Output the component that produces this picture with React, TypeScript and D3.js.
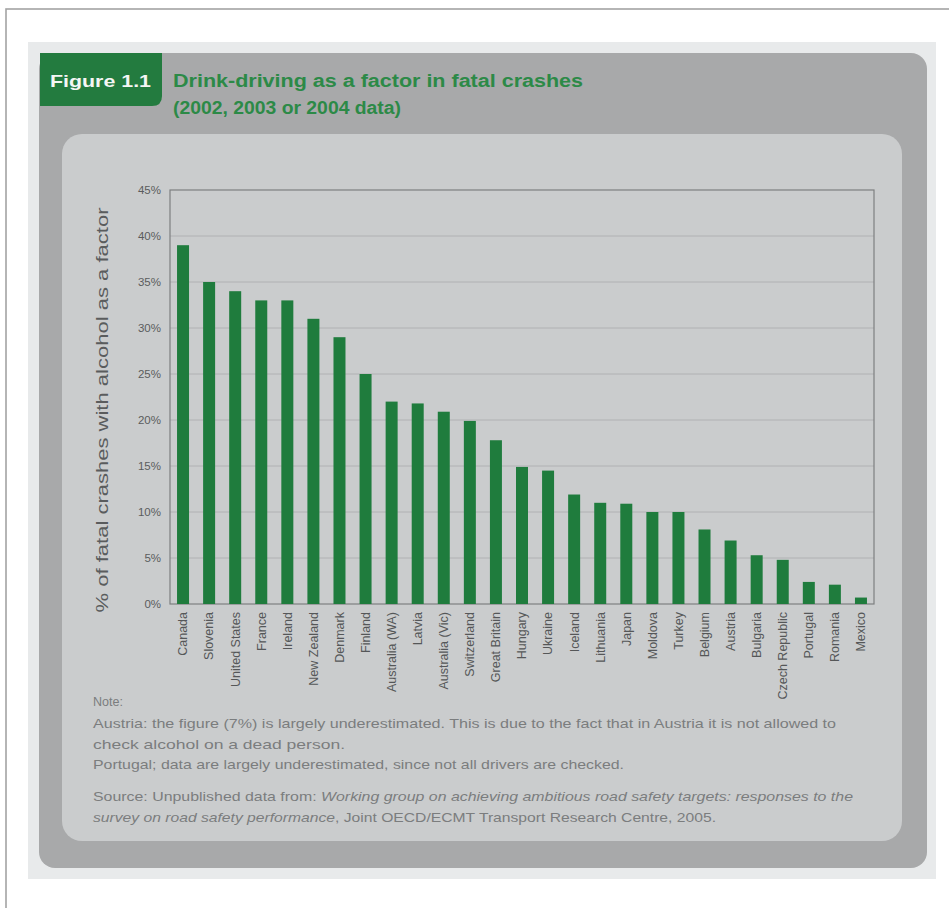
import React from "react";
import * as d3 from "d3";

const countries = [
  "Canada", "Slovenia", "United States", "France", "Ireland", "New Zealand", "Denmark",
  "Finland", "Australia (WA)", "Latvia", "Australia (Vic)", "Switzerland", "Great Britain",
  "Hungary", "Ukraine", "Iceland", "Lithuania", "Japan", "Moldova", "Turkey", "Belgium",
  "Austria", "Bulgaria", "Czech Republic", "Portugal", "Romania", "Mexico",
];
const values = [
  39, 35, 34, 33, 33, 31, 29, 25, 22, 21.8, 20.9, 19.9, 17.8, 14.9, 14.5, 11.9, 11.0,
  10.9, 10, 10, 8.1, 6.9, 5.3, 4.8, 2.4, 2.1, 0.7,
];
const yTicks = [0, 5, 10, 15, 20, 25, 30, 35, 40, 45];

const figLabel = "Figure 1.1";
const titleLines = ["Drink-driving as a factor in fatal crashes", "(2002, 2003 or 2004 data)"];
const yTitle = "% of fatal crashes with alcohol as a factor";
const noteLines = [
  "Note:",
  "Austria: the figure (7%) is largely underestimated. This is due to the fact that in Austria it is not allowed to",
  "check alcohol on a dead person.",
  "Portugal; data are largely underestimated, since not all drivers are checked.",
];

const W = 949;
const H = 908;
const plot = { left: 170, right: 874, top: 190, bottom: 604 };

export default function App() {
  const x = d3
    .scaleBand<string>()
    .domain(countries)
    .range([plot.left, plot.right])
    .paddingInner(0.54)
    .paddingOuter(0.27);
  const y = d3.scaleLinear().domain([0, 45]).range([plot.bottom, plot.top]);

  const font = "'Liberation Sans', Arial, sans-serif";
  const noteColor = "#7b7d7e";
  const noteLens = [30, 743, 252, 531];
  const noteY = [706, 728, 749, 769];

  return (
    <svg
      width={W}
      height={H}
      viewBox={`0 0 ${W} ${H}`}
      style={{ position: "absolute", left: 0, top: 0, background: "#ffffff" }}
      fontFamily={font}
    >
      {/* outer frame */}
      <rect x={6} y={9} width={980} height={940} fill="#ffffff" stroke="#a3a3a3" strokeWidth={1.6} />
      {/* page scan area */}
      <rect x={28} y={42} width={908} height={837} fill="#e8eaeb" />
      {/* dark panel */}
      <rect x={39} y={53} width={888} height={815} rx={16} fill="#a8a9aa" />
      {/* green tab */}
      <path d="M40,53 H162 V96 Q162,106 152,106 H40 Z" fill="#237b3f" />
      <text x={50} y={87} fill="#f4f6f4" fontSize={17} fontWeight="bold" textLength={101} lengthAdjust="spacingAndGlyphs">
        {figLabel}
      </text>
      {titleLines.map((t, i) => (
        <text
          key={t}
          x={173}
          y={87 + i * 27}
          fill="#2c8a47"
          fontSize={17.5}
          fontWeight="bold"
          textLength={i === 0 ? 410 : 228}
          lengthAdjust="spacingAndGlyphs"
        >
          {t}
        </text>
      ))}
      {/* inner panel */}
      <rect x={62} y={134} width={840} height={707} rx={20} fill="#cacccd" />

      {/* gridlines */}
      {yTicks.slice(1, -1).map((t) => (
        <line key={t} x1={plot.left} x2={plot.right} y1={y(t)} y2={y(t)} stroke="#a9abac" strokeWidth={0.8} />
      ))}
      {/* plot frame */}
      <rect
        x={plot.left}
        y={plot.top}
        width={plot.right - plot.left}
        height={plot.bottom - plot.top}
        fill="none"
        stroke="#7d7f80"
        strokeWidth={1.2}
      />
      {/* bars */}
      {countries.map((c, i) => (
        <rect
          key={c}
          x={x(c)}
          y={y(values[i])}
          width={x.bandwidth()}
          height={plot.bottom - y(values[i])}
          fill="#1f7c3d"
        />
      ))}
      {/* y ticks */}
      {yTicks.map((t) => (
        <text key={t} x={161} y={y(t)} dy="0.35em" textAnchor="end" fontSize={11.5} fill="#5a5c5d">
          {`${t}%`}
        </text>
      ))}
      {/* x labels */}
      {countries.map((c) => {
        const cx = (x(c) as number) + x.bandwidth() / 2;
        return (
          <text
            key={c}
            transform={`translate(${cx},612) rotate(-90)`}
            dy="0.35em"
            textAnchor="end"
            fontSize={12.5}
            fill="#555758"
          >
            {c}
          </text>
        );
      })}
      {/* y title */}
      <text
        transform={`translate(108,410) rotate(-90)`}
        textAnchor="middle"
        fontSize={17}
        fill="#5a5c5d"
        textLength={405}
        lengthAdjust="spacingAndGlyphs"
      >
        {yTitle}
      </text>

      {/* notes */}
      {noteLines.map((t, i) => (
        <text key={i} x={93} y={noteY[i]} fontSize={13} fill={noteColor} textLength={noteLens[i]} lengthAdjust="spacingAndGlyphs">
          {t}
        </text>
      ))}
      <text x={93} y={801} fontSize={13} fill={noteColor} textLength={760} lengthAdjust="spacingAndGlyphs">
        Source: Unpublished data from:{" "}
        <tspan fontStyle="italic">Working group on achieving ambitious road safety targets: responses to the</tspan>
      </text>
      <text x={93} y={822} fontSize={13} fill={noteColor} textLength={623} lengthAdjust="spacingAndGlyphs">
        <tspan fontStyle="italic">survey on road safety performance</tspan>, Joint OECD/ECMT Transport Research Centre, 2005.
      </text>
    </svg>
  );
}
